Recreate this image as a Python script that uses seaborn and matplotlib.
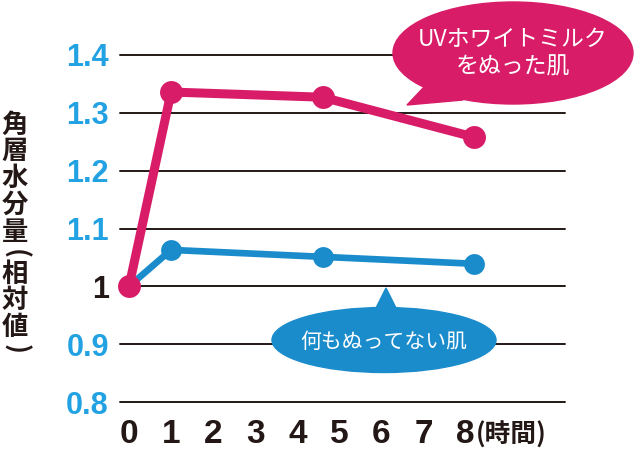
import matplotlib
matplotlib.use("Agg")
import matplotlib.pyplot as plt
import seaborn as sns
import pandas as pd
from matplotlib.patches import Ellipse, Polygon

# ---- data ----
hours = [0, 1, 4.6, 8.2]
treated = [1.0, 1.336, 1.327, 1.258]      # UVホワイトミルクをぬった肌
untreated = [1.0, 1.063, 1.051, 1.039]    # 何もぬってない肌
yticks = [0.8, 0.9, 1.0, 1.1, 1.2, 1.3, 1.4]
ytick_labels = ["0.8", "0.9", "1", "1.1", "1.2", "1.3", "1.4"]
xticks = [0, 1, 2, 3, 4, 5, 6, 7, 8]
xtick_labels = ["0", "1", "2", "3", "4", "5", "6", "7", "8"]
ylabel_chars = ["角", "層", "水", "分", "量", "(", "相", "対", "値", ")"]
xunit = "(時間)"
label_treated = "UVホワイトミルク\nをぬった肌"
label_untreated = "何もぬってない肌"

PINK = "#d91c68"
BLUE = "#1a8ccc"
TICKBLUE = "#22a2e2"
DARK = "#231815"

sns.set_theme(style="white")
plt.rcParams["font.family"] = ["Liberation Sans", "Noto Sans CJK JP", "DejaVu Sans"]

W, H = 636, 449
fig = plt.figure(figsize=(W / 100, H / 100), dpi=100)
ax = fig.add_axes([120 / W, 1 - 402 / H, (565 - 120) / W, (402 - 55) / H])

df = pd.DataFrame({"hours": hours * 2,
                   "value": untreated + treated,
                   "series": ["u"] * 4 + ["t"] * 4})

sns.lineplot(data=df[df.series == "u"], x="hours", y="value", color=BLUE,
             linewidth=4.8, marker="o", markersize=15, markeredgewidth=0,
             ax=ax, zorder=3, clip_on=False)
sns.lineplot(data=df[df.series == "t"], x="hours", y="value", color=PINK,
             linewidth=6.5, marker="o", markersize=16.5, markeredgewidth=0,
             ax=ax, zorder=4, clip_on=False)

ax.set_xlim(-0.214, 10.36)
ax.set_ylim(0.8, 1.4)
for y in yticks:
    ax.axhline(y, color=DARK, linewidth=1.4, zorder=1, clip_on=False)
for s in ax.spines.values():
    s.set_visible(False)
ax.set_xticks(xticks)
ax.set_xticklabels(xtick_labels)
ax.set_yticks(yticks)
ax.set_yticklabels(ytick_labels)
ax.tick_params(axis="both", length=0)
ax.tick_params(axis="y", pad=8)
ax.tick_params(axis="x", pad=12)
for lab in ax.get_yticklabels():
    lab.set_fontsize(22)
    lab.set_fontweight("bold")
    lab.set_color(DARK if lab.get_text() == "1" else TICKBLUE)
for lab in ax.get_xticklabels():
    lab.set_fontsize(24)
    lab.set_fontweight("bold")
    lab.set_color(DARK)
ax.set_xlabel("")
ax.set_ylabel("")

# overlay in pixel coords for decorations
ov = fig.add_axes([0, 0, 1, 1], zorder=10)
ov.set_xlim(0, W)
ov.set_ylim(H, 0)
ov.axis("off")
ov.patch.set_alpha(0)

ov.text(476, 435, xunit, fontsize=18.5, fontweight="bold", color=DARK,
        ha="left", va="center", family=["Noto Sans CJK JP"])

# vertical y-axis title, one glyph per row; brackets rotated as in vertical writing
ycur = 125.0
for ch in ylabel_chars:
    if ch in "()":
        ycur -= 5
        ov.text(15, ycur, ch, fontsize=19, fontweight="bold", color=DARK,
                ha="center", va="center", rotation=-90, family=["Noto Sans CJK JP"])
        ycur += 20
    else:
        ov.text(15, ycur, ch, fontsize=19, fontweight="bold", color=DARK,
                ha="center", va="center", family=["Noto Sans CJK JP"])
        ycur += 26.8

# pink bubble
ov.add_patch(Ellipse((513, 53), 240, 102, color=PINK, zorder=1))
ov.add_patch(Polygon([[425, 86], [463, 100], [407, 105]], closed=True, color=PINK, zorder=1))
ov.text(513, 53, label_treated, fontsize=16.5, color="white", ha="center", va="center",
        linespacing=1.25, family=["Noto Sans CJK JP"], zorder=2)

# blue bubble
ov.add_patch(Ellipse((384, 340), 224, 65, color=BLUE, zorder=1))
ov.add_patch(Polygon([[375, 310], [397, 310], [386, 288]], closed=True, color=BLUE, zorder=1))
ov.text(384, 342, label_untreated, fontsize=15, color="white", ha="center", va="center",
        family=["Noto Sans CJK JP"], zorder=2)

fig.savefig("out.png", dpi=100)
